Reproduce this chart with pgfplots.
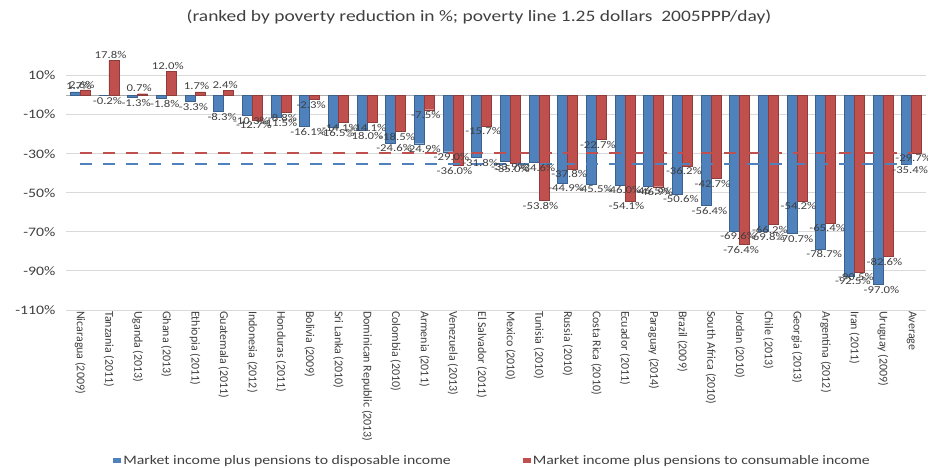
\documentclass[border=0pt]{standalone}
\usepackage{pgfplots}
\pgfplotsset{compat=1.18}
\usepackage{pgfplotstable}
\usepackage{fontspec}
\setmainfont{Carlito}[FakeStretch=1.22]
\newfontfamily\catfont{Carlito}
\definecolor{dispblue}{HTML}{4F81BD}
\definecolor{consred}{HTML}{C0504D}
\definecolor{txtgray}{HTML}{404040}
\definecolor{gridgray}{HTML}{D9D9D9}

% poverty reduction (%): market income plus pensions -> disposable / consumable income
\pgfplotstableread{
idx disp cons
0   1.7    2.6
1   -0.2   17.8
2   -1.3   0.7
3   -1.8   12.0
4   -3.3   1.7
5   -8.3   2.4
6   -10.3  -12.7
7   -11.5  -8.8
8   -16.1  -2.3
9   -16.5  -14.1
10  -18.0  -14.1
11  -24.6  -18.5
12  -24.9  -7.5
13  -29.0  -36.0
14  -31.8  -15.7
15  -33.9  -35.0
16  -34.6  -53.8
17  -44.9  -37.8
18  -45.5  -22.7
19  -46.0  -54.1
20  -46.5  -46.9
21  -50.6  -36.2
22  -56.4  -42.7
23  -69.6  -76.4
24  -69.8  -66.2
25  -70.7  -54.2
26  -78.7  -65.4
27  -92.5  -90.5
28  -97.0  -82.6
29  -35.4  -29.7
}\povdata

% averages drawn as dashed reference lines
\pgfplotstableread{
idx disp cons
0   -35.4  -29.7
29  -35.4  -29.7
}\avgdata

\begin{document}
\begin{tikzpicture}
\path[use as bounding box] (-66bp,-158bp) rectangle (862bp,310bp);
\begin{axis}[
  at={(0,0)}, anchor=south west,
  scale only axis, width=860bp, height=254bp,
  xmin=-0.5, xmax=29.5, ymin=-110, ymax=20,
  axis line style={draw=none},
  major tick length=0pt,
  ytick={-110,-90,...,10},
  ymajorgrids, grid style={gridgray, line width=1bp},
  extra y ticks={0}, extra y tick labels={},
  extra y tick style={grid style={gray!65, line width=1bp}},
  xtick={0,...,29},
  xticklabels={Nicaragua (2009),Tanzania (2011),Uganda (2013),Ghana (2013),Ethiopia (2011),Guatemala (2011),Indonesia (2012),Honduras (2011),Bolivia (2009),Sri Lanka (2010),Dominican Republic (2013),Colombia (2010),Armenia (2011),Venezuela (2013),El Salvador (2011),Mexico (2010),Tunisia (2010),Russia (2010),Costa Rica (2010),Ecuador (2011),Paraguay (2014),Brazil (2009),South Africa (2010),Jordan (2010),Chile (2013),Georgia (2013),Argentina (2012),Iran (2011),Uruguay (2009),Average},
  xticklabel style={rotate=-90, anchor=west, font=\catfont\fontsize{12}{12}\selectfont, text=txtgray, inner sep=1bp},
  /pgf/number format/assume math mode=true,
  yticklabel={\pgfmathprintnumber{\tick}\%},
  yticklabel style={font=\fontsize{13}{13}\selectfont, text=txtgray, xshift=-7bp},
  clip=false,
  legend style={at={(0.496,-0.594)}, anchor=center, draw=none, fill=none,
    legend columns=2, font=\fontsize{13}{13}\selectfont, text=txtgray,
    /tikz/every even column/.append style={column sep=70bp}},
  legend image code/.code={\draw[#1,draw=none] (0bp,-2.5bp) rectangle (8bp,3bp);},
  every node near coord/.append style={font=\fontsize{10.5}{10.5}\selectfont, text=txtgray, inner sep=1.5bp},
]
\addplot[ybar, bar width=10bp, bar shift=-5bp, fill=dispblue, draw=dispblue!75!black, line width=0.4bp,
  nodes near coords={\pgfmathprintnumber[fixed,fixed zerofill,precision=1]{\pgfplotspointmeta}\%},
  nodes near coords align={vertical},
  every node near coord/.append style={xshift=-1.5bp}]
  table[x=idx, y=disp] {\povdata};
\addlegendentry{Market income plus pensions to disposable income}
\addplot[ybar, bar width=10bp, bar shift=5bp, fill=consred, draw=consred!75!black, line width=0.4bp,
  nodes near coords={\pgfmathprintnumber[fixed,fixed zerofill,precision=1]{\pgfplotspointmeta}\%},
  nodes near coords align={vertical},
  every node near coord/.append style={xshift=1.5bp}]
  table[x=idx, y=cons] {\povdata};
\addlegendentry{Market income plus pensions to consumable income}
\addplot[forget plot, sharp plot, consred, line width=2.5bp, dash pattern=on 12bp off 11bp]
  table[x=idx, y=cons] {\avgdata};
\addplot[forget plot, sharp plot, dispblue, line width=2.5bp, dash pattern=on 12bp off 11bp]
  table[x=idx, y=disp] {\avgdata};
\end{axis}
\node[font=\fontsize{16}{16}\selectfont, text=txtgray] at (413bp,293bp)
  {(ranked by poverty reduction in \%; poverty line 1.25 dollars\ \ 2005PPP/day)};
\end{tikzpicture}
\end{document}
